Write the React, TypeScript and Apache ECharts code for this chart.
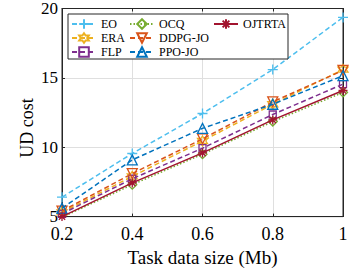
import React, { useEffect, useRef } from "react";
import * as echarts from "echarts";

const categories = ["0.2", "0.4", "0.6", "0.8", "1"];
const seriesNames = ["EO", "ERA", "FLP", "OCQ", "DDPG-JO", "PPO-JO", "OJTRTA"];
const eoValues = [6.4, 9.55, 12.43, 15.6, 19.36];
const eraValues = [5.3, 7.9, 10.45, 13.1, 15.6];
const flpValues = [5.2, 7.73, 9.93, 12.36, 14.55];
const ocqValues = [4.95, 7.3, 9.5, 11.85, 13.95];
const ddpgValues = [5.4, 8.1, 10.6, 13.27, 15.54];
const ppoValues = [5.6, 9.09, 11.36, 13.1, 15.16];
const ojtrtaValues = [5.0, 7.43, 9.59, 11.97, 14.09];
const yTicks = { min: 5, max: 20, interval: 5 };

const FONT = "Liberation Serif";

const PLUS = "path://M0,5L10,5M5,0L5,10";
const ASTER = "path://M0,5L10,5M5,0L5,10M1.5,1.5L8.5,8.5M1.5,8.5L8.5,1.5";
const HEXA =
  "path://M5,0L6.443,2.5L9.33,2.5L7.887,5L9.33,7.5L6.443,7.5L5,10L3.557,7.5L0.67,7.5L2.113,5L0.67,2.5L3.557,2.5Z";
const TRI_DOWN = "path://M0,0L10,0L5,8.66Z";
const TRI_UP = "path://M5,0L10,8.66L0,8.66Z";

export default function App() {
  const ref = useRef<HTMLDivElement>(null);
  useEffect(() => {
    if (!ref.current) return;
    const chart = echarts.init(ref.current, null, { renderer: "svg" });
    const defs = [
      { data: eoValues, color: "#4DBEEE", symbol: PLUS, size: 10, dash: [5, 3] },
      { data: eraValues, color: "#EDB120", symbol: HEXA, size: 10, dash: [5, 3] },
      { data: flpValues, color: "#7E2F8E", symbol: "rect", size: 7, dash: [5, 3] },
      { data: ocqValues, color: "#77AC30", symbol: "diamond", size: 9, dash: [1.5, 2] },
      { data: ddpgValues, color: "#D95319", symbol: TRI_DOWN, size: 10, dash: [5, 3] },
      { data: ppoValues, color: "#0072BD", symbol: TRI_UP, size: 10, dash: [5, 3] },
      { data: ojtrtaValues, color: "#A2142F", symbol: ASTER, size: 9, dash: "solid" as any },
    ];
    const series = defs.map((d, i) => ({
      name: seriesNames[i],
      type: "line",
      data: d.data,
      color: d.color,
      symbol: d.symbol,
      symbolSize: d.size,
      showAllSymbol: true,
      lineStyle: { color: d.color, width: 1.5, type: d.dash },
      itemStyle: { color: "rgba(0,0,0,0)", borderColor: d.color, borderWidth: 1.3 },
      z: 2 + i * 0.01,
    }));
    const legendBase = {
      orient: "vertical",
      padding: 0,
      itemWidth: 24,
      itemHeight: 12,
      itemGap: 2,
      top: 18,
      z: 5,
      textStyle: { fontFamily: FONT, fontSize: 12, color: "#000" },
      selectedMode: false,
    };
    chart.setOption({
      animation: false,
      backgroundColor: "#fff",
      grid: {
        left: 62,
        right: 19,
        top: 7,
        bottom: 45,
        show: true,
        borderColor: "#262626",
        borderWidth: 1,
        backgroundColor: "transparent",
      },
      legend: [
        { ...legendBase, left: 71, data: ["EO", "ERA", "FLP"] },
        { ...legendBase, left: 129, data: ["OCQ", "DDPG-JO", "PPO-JO"] },
        { ...legendBase, left: 213, data: ["OJTRTA"] },
      ],
      graphic: [
        {
          type: "rect",
          shape: { x: 68, y: 14, width: 220, height: 45 },
          style: { fill: "#fff", stroke: "#262626", lineWidth: 1 },
          z: 4,
        },
        {
          type: "text",
          x: 27,
          y: 128,
          rotation: Math.PI / 2,
          style: {
            text: "UD cost",
            align: "center",
            verticalAlign: "middle",
            fontFamily: FONT,
            fontSize: 18,
            fill: "#000",
          },
        },
      ],
      xAxis: [
        {
          type: "category",
          data: categories,
          boundaryGap: false,
          name: "Task data size (Mb)",
          nameLocation: "middle",
          nameGap: 25,
          nameTextStyle: { fontFamily: FONT, fontSize: 19, color: "#000" },
          axisLine: { lineStyle: { color: "#262626" } },
          axisTick: { inside: true, length: 3, lineStyle: { color: "#262626" } },
          axisLabel: { fontFamily: FONT, fontSize: 18, lineHeight: 15, color: "#000", margin: 10 },
          splitLine: { show: true, lineStyle: { color: "#dfdfdf", width: 1 } },
        },
        {
          type: "category",
          data: categories,
          boundaryGap: false,
          position: "top",
          axisLine: { lineStyle: { color: "#262626" } },
          axisTick: { inside: true, length: 3, lineStyle: { color: "#262626" } },
          axisLabel: { show: false },
          splitLine: { show: false },
        },
      ],
      yAxis: [
        {
          type: "value",
          min: yTicks.min,
          max: yTicks.max,
          interval: yTicks.interval,
          axisLine: { show: true, lineStyle: { color: "#262626" } },
          axisTick: { show: true, inside: true, length: 3, lineStyle: { color: "#262626" } },
          axisLabel: { fontFamily: FONT, fontSize: 17, lineHeight: 14, color: "#000", margin: 4 },
          splitLine: { show: true, lineStyle: { color: "#dfdfdf", width: 1 } },
        },
        {
          type: "value",
          min: yTicks.min,
          max: yTicks.max,
          interval: yTicks.interval,
          position: "right",
          axisLine: { show: true, lineStyle: { color: "#262626" } },
          axisTick: { show: true, inside: true, length: 3, lineStyle: { color: "#262626" } },
          axisLabel: { show: false },
          splitLine: { show: false },
        },
      ],
      series,
    });
    return () => chart.dispose();
  }, []);
  return (
    <div
      ref={ref}
      style={{ position: "fixed", left: 0, top: 0, width: 362, height: 272 }}
    />
  );
}
